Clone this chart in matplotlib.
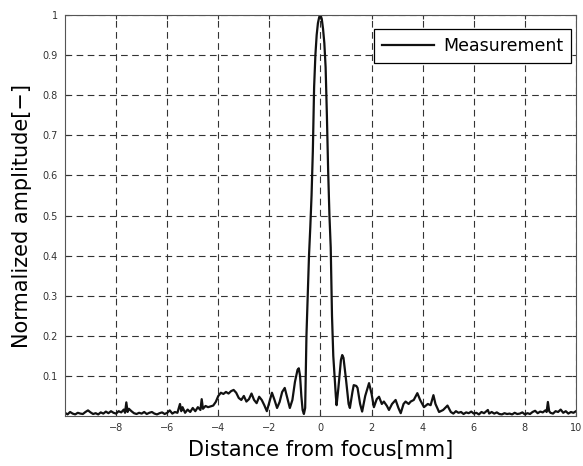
import matplotlib
matplotlib.use("Agg")
import matplotlib.pyplot as plt

# distance from focus [mm] and normalized amplitude
distance = [
    -10.0, -9.9, -9.8, -9.7, -9.6, -9.5, -9.4, -9.3, -9.2, -9.1, -9.0, -8.9, -8.8, -8.7,
    -8.6, -8.5, -8.4, -8.3, -8.2, -8.1, -8.0, -7.9, -7.8, -7.7, -7.65, -7.6, -7.55, -7.5,
    -7.4, -7.3, -7.2, -7.1, -7.0, -6.9, -6.8, -6.7, -6.6, -6.5, -6.4, -6.3, -6.2, -6.1,
    -6.0, -5.9, -5.8, -5.7, -5.6, -5.5, -5.45, -5.4, -5.3, -5.2, -5.1, -5.0, -4.9, -4.8,
    -4.7, -4.65, -4.6, -4.5, -4.4, -4.3, -4.2, -4.1, -4.0, -3.9, -3.8, -3.7, -3.6, -3.5,
    -3.4, -3.3, -3.2, -3.1, -3.0, -2.9, -2.8, -2.7, -2.6, -2.5, -2.4, -2.3, -2.2, -2.1,
    -2.0, -1.9, -1.8, -1.7, -1.6, -1.5, -1.4, -1.3, -1.2, -1.1, -1.0, -0.9, -0.85, -0.8,
    -0.75, -0.7, -0.65, -0.6, -0.55, -0.5, -0.45, -0.4, -0.35, -0.3, -0.25, -0.2, -0.15,
    -0.1, -0.05, 0.0, 0.05, 0.1, 0.15, 0.2, 0.25, 0.3, 0.35, 0.4, 0.45, 0.5, 0.55, 0.6,
    0.63, 0.7, 0.8, 0.85, 0.9, 1.0, 1.1, 1.15, 1.25, 1.3, 1.4, 1.45, 1.55, 1.63, 1.75,
    1.9, 2.0, 2.09, 2.2, 2.29, 2.4, 2.48, 2.6, 2.68, 2.8, 2.94, 3.05, 3.14, 3.25, 3.33,
    3.45, 3.53, 3.65, 3.79, 3.9, 4.05, 4.2, 4.31, 4.42, 4.5, 4.64, 4.8, 4.97, 5.1, 5.2,
    5.3, 5.4, 5.5, 5.6, 5.7, 5.8, 5.9, 6.0, 6.1, 6.2, 6.3, 6.4, 6.55, 6.6, 6.7, 6.8, 6.9,
    7.0, 7.1, 7.2, 7.3, 7.4, 7.5, 7.6, 7.7, 7.8, 7.9, 8.0, 8.1, 8.2, 8.3, 8.4, 8.5, 8.6,
    8.7, 8.8, 8.85, 8.9, 8.95, 9.0, 9.1, 9.2, 9.3, 9.4, 9.5, 9.6, 9.7, 9.8, 9.9, 10.0,
]
amplitude = [
    0.008, 0.004, 0.010, 0.006, 0.004, 0.008, 0.006, 0.005, 0.010, 0.014, 0.009, 0.005, 0.007, 0.004,
    0.009, 0.006, 0.011, 0.007, 0.012, 0.008, 0.006, 0.012, 0.009, 0.016, 0.008, 0.034, 0.010, 0.018,
    0.012, 0.007, 0.005, 0.008, 0.006, 0.010, 0.005, 0.008, 0.010, 0.006, 0.004, 0.007, 0.009, 0.005,
    0.008, 0.014, 0.006, 0.010, 0.008, 0.030, 0.012, 0.022, 0.008, 0.016, 0.010, 0.020, 0.012, 0.022,
    0.015, 0.042, 0.018, 0.025, 0.022, 0.024, 0.026, 0.035, 0.050, 0.058, 0.055, 0.060, 0.056, 0.062,
    0.065, 0.058, 0.045, 0.040, 0.050, 0.036, 0.042, 0.056, 0.040, 0.032, 0.048, 0.040, 0.027, 0.012,
    0.035, 0.058, 0.040, 0.020, 0.035, 0.060, 0.070, 0.045, 0.020, 0.040, 0.085, 0.115, 0.119, 0.100,
    0.050, 0.015, 0.005, 0.020, 0.200, 0.300, 0.400, 0.470, 0.550, 0.660, 0.820, 0.900, 0.950,
    0.980, 0.995, 1.000, 0.990, 0.965, 0.930, 0.870, 0.750, 0.610, 0.500, 0.420, 0.250, 0.150, 0.100, 0.050,
    0.027, 0.070, 0.140, 0.152, 0.145, 0.090, 0.030, 0.020, 0.060, 0.077, 0.075, 0.070, 0.030, 0.011, 0.050,
    0.082, 0.055, 0.022, 0.042, 0.048, 0.030, 0.036, 0.025, 0.015, 0.030, 0.040, 0.020, 0.007, 0.030, 0.036,
    0.030, 0.036, 0.040, 0.057, 0.040, 0.022, 0.030, 0.027, 0.052, 0.030, 0.010, 0.015, 0.026, 0.010, 0.006,
    0.012, 0.008, 0.010, 0.005, 0.009, 0.007, 0.011, 0.006, 0.008, 0.004, 0.010, 0.007, 0.015, 0.006, 0.010, 0.006, 0.009,
    0.005, 0.004, 0.007, 0.005, 0.006, 0.004, 0.008, 0.005, 0.006, 0.009, 0.004, 0.007, 0.005, 0.010, 0.013, 0.007, 0.011,
    0.009, 0.014, 0.010, 0.035, 0.012, 0.008, 0.006, 0.012, 0.010, 0.016, 0.008, 0.012, 0.006, 0.010, 0.008, 0.012,
]

x_ticks = [-8, -6, -4, -2, 0, 2, 4, 6, 8, 10]
y_ticks = [0.1, 0.2, 0.3, 0.4, 0.5, 0.6, 0.7, 0.8, 0.9, 1.0]
y_tick_labels = ["0.1", "0.2", "0.3", "0.4", "0.5", "0.6", "0.7", "0.8", "0.9", "1"]

plt.rcParams["font.family"] = ["DejaVu Sans"]

fig = plt.figure(figsize=(5.83, 4.66), dpi=100)
ax = fig.add_axes([65 / 583, 1 - 416 / 466, (576 - 65) / 583, (416 - 15) / 466])

ax.plot(distance, amplitude, color="#111111", linewidth=1.6, label="Measurement")

ax.set_xlim(-10, 10)
ax.set_ylim(0, 1)
ax.set_xticks(x_ticks)
ax.set_yticks(y_ticks)
ax.set_yticklabels(y_tick_labels)
ax.tick_params(direction="in", length=3, labelsize=7, colors="#333333",
               top=True, right=True, pad=5)
for spine in ax.spines.values():
    spine.set_color("#555555")
    spine.set_linewidth(0.8)

ax.grid(True, color="#333333", linestyle=(0, (6, 4)), linewidth=0.8)

ax.set_xlabel("Distance from focus[mm]", fontsize=15, labelpad=5)
ax.set_ylabel("Normalized amplitude[\u2212]", fontsize=15, labelpad=8)

leg = ax.legend(loc="upper right", bbox_to_anchor=(0.99, 0.965), prop={"size": 12.5},
                fancybox=False, framealpha=1, edgecolor="black", borderaxespad=0,
                handlelength=3.0, borderpad=0.45, handletextpad=0.5)
leg.get_frame().set_linewidth(0.9)

fig.savefig("out.png", dpi=100)
